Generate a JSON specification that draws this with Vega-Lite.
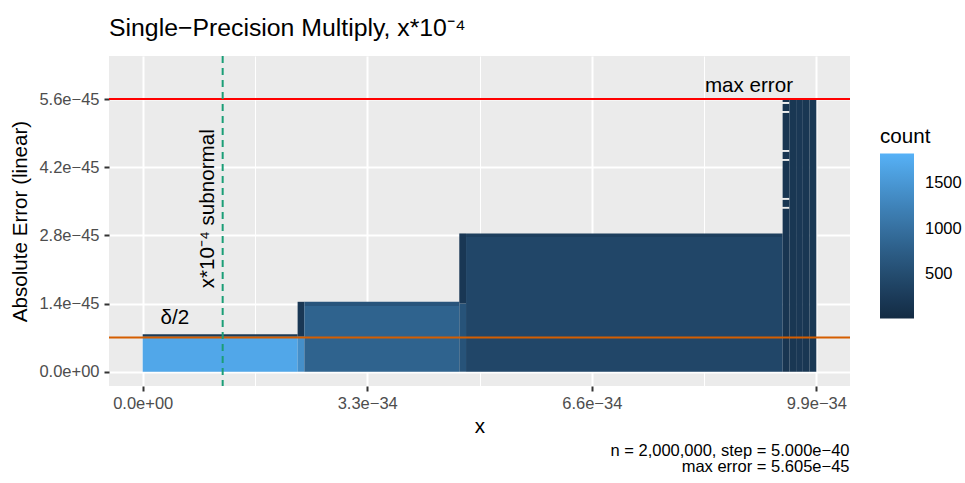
{
  "$schema": "https://vega.github.io/schema/vega-lite/v6.json",
  "width": 741,
  "height": 330,
  "autosize": {"type": "none"},
  "padding": {"left": 109, "top": 56, "right": 115, "bottom": 97},
  "background": "white",
  "config": {
    "font": "Liberation Sans",
    "view": {"fill": "#EBEBEB", "stroke": null},
    "axis": {
      "domain": false,
      "gridColor": "white",
      "tickColor": "#333333",
      "tickWidth": 2,
      "tickSize": 5,
      "labelColor": "#4D4D4D",
      "labelFontSize": 16.5,
      "labelFont": "Liberation Sans",
      "titleFont": "Liberation Sans",
      "titleFontSize": 20.6,
      "titleFontWeight": "normal",
      "titleColor": "black"
    }
  },
  "title": {
    "text": "Single−Precision Multiply, x*10⁻⁴",
    "anchor": "start",
    "frame": "group",
    "font": "Liberation Sans",
    "fontSize": 24.8,
    "fontWeight": "normal",
    "color": "black",
    "baseline": "alphabetic",
    "offset": -6
  },
  "datasets": {
    "tiles": [
      {"x0": 0, "x1": 2.277e-34, "y0": 0, "y1": 7.2e-46, "count": 1700},
      {"x0": 0, "x1": 2.277e-34, "y0": 7.2e-46, "y1": 7.68e-46, "count": 250},
      {"x0": 2.277e-34, "x1": 2.376e-34, "y0": 0, "y1": 7.2e-46, "count": 1400},
      {"x0": 2.277e-34, "x1": 2.376e-34, "y0": 7.2e-46, "y1": 1.437e-45, "count": 200},
      {"x0": 2.376e-34, "x1": 4.653e-34, "y0": 0, "y1": 1.35e-45, "count": 820},
      {"x0": 2.376e-34, "x1": 4.653e-34, "y0": 1.35e-45, "y1": 1.437e-45, "count": 620},
      {"x0": 4.653e-34, "x1": 4.752e-34, "y0": 0, "y1": 1.4e-45, "count": 600},
      {"x0": 4.653e-34, "x1": 4.752e-34, "y0": 1.4e-45, "y1": 2.842e-45, "count": 200},
      {"x0": 4.752e-34, "x1": 9.405e-34, "y0": 0, "y1": 2.77e-45, "count": 420},
      {"x0": 4.752e-34, "x1": 9.405e-34, "y0": 2.77e-45, "y1": 2.842e-45, "count": 300},
      {"x0": 9.405e-34, "x1": 9.504e-34, "y0": 0, "y1": 3.348e-45, "count": 170},
      {"x0": 9.405e-34, "x1": 9.504e-34, "y0": 3.388e-45, "y1": 3.532e-45, "count": 170},
      {"x0": 9.405e-34, "x1": 9.504e-34, "y0": 3.572e-45, "y1": 4.333e-45, "count": 170},
      {"x0": 9.405e-34, "x1": 9.504e-34, "y0": 4.373e-45, "y1": 4.518e-45, "count": 170},
      {"x0": 9.405e-34, "x1": 9.504e-34, "y0": 4.558e-45, "y1": 5.319e-45, "count": 170},
      {"x0": 9.405e-34, "x1": 9.504e-34, "y0": 5.359e-45, "y1": 5.504e-45, "count": 170},
      {"x0": 9.405e-34, "x1": 9.504e-34, "y0": 5.544e-45, "y1": 5.605e-45, "count": 170},
      {"x0": 9.504e-34, "x1": 9.603e-34, "y0": 0, "y1": 5.605e-45, "count": 195},
      {"x0": 9.603e-34, "x1": 9.702e-34, "y0": 0, "y1": 5.605e-45, "count": 215},
      {"x0": 9.702e-34, "x1": 9.801e-34, "y0": 0, "y1": 5.605e-45, "count": 190},
      {"x0": 9.801e-34, "x1": 9.9e-34, "y0": 0, "y1": 5.605e-45, "count": 205}
    ]
  },
  "layer": [
    {
      "layer": [
        {
          "data": {"name": "tiles"},
          "mark": {"type": "rect", "strokeWidth": 0},
          "encoding": {
            "x": {
              "field": "x0",
              "type": "quantitative",
              "scale": {"domain": [-4.95e-35, 1.0395e-33], "nice": false, "zero": false},
              "axis": {
                "title": "x",
                "values": [0, 1.65e-34, 3.3e-34, 4.95e-34, 6.6e-34, 8.25e-34, 9.9e-34],
                "labelExpr": "round(datum.value / 1.65e-34) % 2 == 0 ? (datum.value == 0 ? '0.0e+00' : replace(format(datum.value, '.1e'), '-', '−')) : ''",
                "gridWidth": {"condition": {"test": "round(datum.value / 1.65e-34) % 2 == 0", "value": 2}, "value": 1},
                "tickOpacity": {"condition": {"test": "round(datum.value / 1.65e-34) % 2 == 0", "value": 1}, "value": 0},
                "labelBaseline": "alphabetic",
                "labelPadding": 17.3,
                "labelFlush": false,
                "labelOverlap": false,
                "titleY": 46,
                "titleBaseline": "alphabetic"
              }
            },
            "x2": {"field": "x1"},
            "y": {
              "field": "y0",
              "type": "quantitative",
              "scale": {"domain": [-2.94e-46, 6.49e-45], "nice": false, "zero": false},
              "axis": {
                "title": "Absolute Error (linear)",
                "values": [0, 7e-46, 1.4e-45, 2.1e-45, 2.8e-45, 3.5e-45, 4.2e-45, 4.9e-45, 5.6e-45, 6.3e-45],
                "labelExpr": "round(datum.value / 7e-46) % 2 == 0 ? (datum.value == 0 ? '0.0e+00' : replace(format(datum.value, '.1e'), '-', '−')) : ''",
                "gridWidth": {"condition": {"test": "round(datum.value / 7e-46) % 2 == 0", "value": 2}, "value": 1},
                "tickOpacity": {"condition": {"test": "round(datum.value / 7e-46) % 2 == 0", "value": 1}, "value": 0},
                "labelPadding": 5,
                "labelFlush": false,
                "labelOverlap": false,
                "titleX": -82.5,
                "titleY": 165,
                "titleAngle": 270,
                "titleAlign": "center",
                "titleBaseline": "alphabetic"
              }
            },
            "y2": {"field": "y1"},
            "color": {
              "field": "count",
              "type": "quantitative",
              "scale": {"domain": [12, 1827], "range": ["#132B43", "#56B1F7"], "interpolate": "lab", "nice": false, "zero": false},
              "legend": {
                "title": "count",
                "orient": "none",
                "legendX": 771,
                "legendY": 71,
                "direction": "vertical",
                "values": [500, 1000, 1500],
                "format": "d",
                "gradientLength": 165,
                "gradientThickness": 34,
                "gradientStrokeWidth": 0,
                "labelFontSize": 16.5,
                "labelColor": "black",
                "labelFont": "Liberation Sans",
                "labelOffset": 11,
                "titleFont": "Liberation Sans",
                "titleFontSize": 20.6,
                "titleFontWeight": "normal",
                "titleColor": "black",
                "titlePadding": 6,
                "padding": 0
              }
            }
          }
        },
        {
          "data": {"values": [{"y0": 5.605e-45}]},
          "mark": {"type": "rule", "color": "#FF0000", "strokeWidth": 2},
          "encoding": {"y": {"field": "y0", "type": "quantitative"}}
        },
        {
          "data": {"values": [{"y0": 7.006e-46}]},
          "mark": {"type": "rule", "color": "#D55E00", "strokeWidth": 2},
          "encoding": {"y": {"field": "y0", "type": "quantitative"}}
        },
        {
          "data": {"values": [{"x0": 8.91e-34, "y0": 5.75e-45, "label": "max error"}]},
          "mark": {"type": "text", "font": "Liberation Sans", "fontSize": 20.6, "align": "center", "baseline": "alphabetic", "color": "black"},
          "encoding": {
            "x": {"field": "x0", "type": "quantitative"},
            "y": {"field": "y0", "type": "quantitative"},
            "text": {"field": "label"}
          }
        },
        {
          "data": {"values": [{"x0": 4.74e-35, "y0": 9.73e-46, "label": "δ/2"}]},
          "mark": {"type": "text", "font": "Liberation Sans", "fontSize": 20.6, "align": "center", "baseline": "alphabetic", "color": "black"},
          "encoding": {
            "x": {"field": "x0", "type": "quantitative"},
            "y": {"field": "y0", "type": "quantitative"},
            "text": {"field": "label"}
          }
        },
        {
          "data": {"values": [{"x0": 1.044e-34, "y0": 3.35e-45, "label": "x*10⁻⁴ subnormal"}]},
          "mark": {"type": "text", "font": "Liberation Sans", "fontSize": 20.6, "align": "center", "baseline": "alphabetic", "angle": 270, "color": "black"},
          "encoding": {
            "x": {"field": "x0", "type": "quantitative"},
            "y": {"field": "y0", "type": "quantitative"},
            "text": {"field": "label"}
          }
        }
      ]
    },
    {
      "data": {"values": [{"x0": 1.1755e-34}]},
      "mark": {"type": "rule", "color": "#1B9E77", "strokeWidth": 2, "strokeDash": [7, 5]},
      "encoding": {
        "x": {
          "field": "x0",
          "type": "quantitative",
          "axis": {
            "orient": "bottom",
            "labels": false,
            "ticks": false,
            "grid": false,
            "domain": false,
            "title": ["n = 2,000,000, step = 5.000e−40", "max error = 5.605e−45"],
            "titleFont": "Liberation Sans",
            "titleFontSize": 16.5,
            "titleColor": "black",
            "titleAlign": "right",
            "titleAnchor": "end",
            "titleBaseline": "alphabetic",
            "titleLineHeight": 16.7,
            "titleX": 740,
            "titleY": 69
          }
        }
      }
    }
  ],
  "resolve": {"axis": {"x": "independent"}}
}
